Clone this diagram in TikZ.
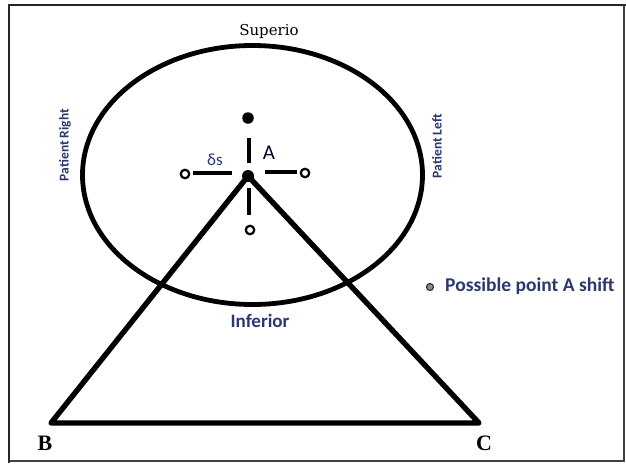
\documentclass[tikz,border=0pt]{standalone}
\usepackage{fontspec}
\usetikzlibrary{shapes.geometric}
\setmainfont{Liberation Serif}
\newfontfamily\calib{Carlito}
\newfontfamily\camb{DejaVu Serif}
\begin{document}
\begin{tikzpicture}[x=1pt,y=-1pt,
  thickline/.style={line width=5.4pt},
  opendot/.style={circle,draw=black,line width=2.2pt,fill=white,minimum size=8.5pt,inner sep=0pt},
  filldot/.style={circle,fill=black,minimum size=11.5pt,inner sep=0pt},
  tick/.style={line width=3.4pt},
  lbl/.style={text=navytxt,inner sep=0pt}
]
\definecolor{navytxt}{HTML}{2B3870}
\useasboundingbox (0,0) rectangle (626,463);
% frame
\draw[line width=2pt,draw=black!85] (9,463) -- (9,5) -- (626,5);
\draw[line width=2pt,draw=black!75] (9,461) -- (624,461) -- (624,5);
% ellipse
\node[draw,line width=4.8pt,ellipse,minimum width=340pt,minimum height=259pt,inner sep=0pt] (E) at (252.5,175) {};
% points
\coordinate (A) at (248,176);
\coordinate (B) at (51,423);
\coordinate (C) at (479,423);
\node[filldot] (Atop) at (248,118) {};
\node[opendot] (Aleft) at (185,174) {};
\node[opendot] (Aright) at (305,173) {};
\node[opendot] (Abot) at (250,230) {};
% ticks
\draw[tick] (193,173) -- (232,173);
\draw[tick] (265,172) -- (297,172);
\draw[tick] (249,138) -- (249,163);
\draw[tick] (249,188) -- (249,215);
% triangle
\draw[thickline,line join=round] (B) -- (A) -- (C) -- cycle;
\node[filldot,minimum size=12pt] (Adot) at (A) {};
% labels
\node[font=\calib\fontsize{21}{21}\selectfont,text=black!70!blue!60!black,inner sep=0pt] (Alab) at (269,153) {A};
\node[font=\calib\fontsize{17}{17}\selectfont,text=navytxt,inner sep=0pt] (ds) at (215,160) {δs};
\node[font=\camb\fontsize{15}{15}\selectfont,inner sep=0pt] (sup) at (269,31) {Superio};
\node[lbl,font=\calib\bfseries\fontsize{19}{19}\selectfont] (inf) at (260,321) {Inferior};
\node[lbl,font=\calib\bfseries\fontsize{13.5}{13.5}\selectfont,rotate=90] (pr) at (65,145) {Patient Right};
\node[lbl,font=\calib\bfseries\fontsize{13.5}{13.5}\selectfont,rotate=90] (pl) at (437,146) {Patient Left};
\node[circle,draw=black!80,line width=1.2pt,fill=black!45,minimum size=7pt,inner sep=0pt] (leg) at (430,287) {};
\node[lbl,font=\calib\bfseries\fontsize{19.5}{19.5}\selectfont,anchor=west] (legt) at (445,286) {Possible point A shift};
\node[font=\bfseries\fontsize{22}{22}\selectfont,inner sep=0pt] (Blab) at (45,443) {B};
\node[font=\bfseries\fontsize{22}{22}\selectfont,inner sep=0pt] (Clab) at (484,443) {C};
\end{tikzpicture}
\end{document}
